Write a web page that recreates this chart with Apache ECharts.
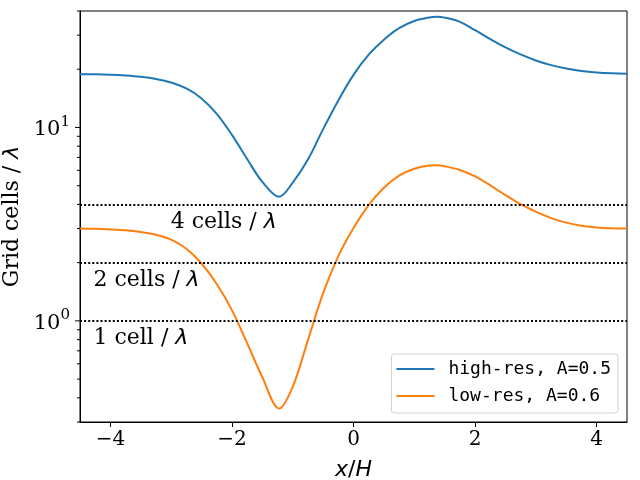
<!DOCTYPE html>
<html>
<head>
    <meta charset="utf-8">
    <title>Grid cells per wavelength</title>
    <script src="https://cdn.jsdelivr.net/npm/echarts@6.0.0/dist/echarts.min.js"></script>
    <style>
        body { margin: 0; background: #fff; }
        #main { width: 640px; height: 480px; }
    </style>
</head>
<body>
    <div id="main"></div>
</body>
<script type="text/javascript">
    var xVals = [-4.5, -4.25, -4.0, -3.75, -3.5, -3.25, -3.0, -2.75, -2.5, -2.25,
        -2.0, -1.75, -1.5, -1.225, -1.0, -0.75, -0.5, -0.25,
        0.0, 0.25, 0.5, 0.75, 1.0, 1.25, 1.375, 1.5, 1.75, 2.0,
        2.25, 2.5, 2.75, 3.0, 3.25, 3.5, 3.75, 4.0, 4.25, 4.5];

    // high-res, A=0.5
    var highRes = [18.86, 18.82, 18.73, 18.55, 18.27, 17.81, 17.08, 15.91, 14.13, 11.75,
        9.15, 6.87, 5.23, 4.38, 5.18, 6.82, 9.8, 13.8,
        18.7, 23.79, 28.44, 32.62, 35.53, 37.06, 37.32, 36.96, 35.16, 31.85,
        28.62, 25.93, 23.85, 22.2, 21.0, 20.16, 19.6, 19.25, 19.05, 18.94];

    // low-res, A=0.6
    var lowRes = [3.0, 2.99, 2.97, 2.94, 2.88, 2.79, 2.63, 2.36, 1.98, 1.55,
        1.136, 0.767, 0.511, 0.352, 0.456, 0.795, 1.39, 2.16,
        3.02, 3.97, 4.88, 5.63, 6.12, 6.36, 6.38, 6.3, 6.03, 5.58,
        5.02, 4.47, 4.01, 3.67, 3.4, 3.22, 3.1, 3.04, 3.01, 3.0];

    var seriesNames = ['high-res, A=0.5', 'low-res, A=0.6'];

    // reference levels (cells per wavelength) and their notes
    var levels = [4, 2, 1];
    var noteX = [-3.0, -4.27, -4.27];
    var noteY = [3.0, 1.5, 0.75];
    var noteText = ['4 cells / ', '2 cells / ', '1 cell / '];

    // log axis ticks
    var minorTicks = [0.3, 0.4, 0.5, 0.6, 0.7, 0.8, 0.9, 2, 3, 4, 5, 6, 7, 8, 9, 20, 30, 40];
    var majorTicks = [1, 10];

    var serif = 'DejaVu Serif';

    function drawGraph() {
        var myChart = echarts.init(document.getElementById('main'), null, { renderer: 'canvas' });

        function pairs(ys) {
            return xVals.map(function (x, i) { return [x, ys[i]]; });
        }

        var tickItem = function (len) {
            return function (params, api) {
                var p = api.coord([api.value(0), api.value(1)]);
                return {
                    type: 'line',
                    shape: { x1: p[0] - len, y1: p[1], x2: p[0], y2: p[1] },
                    style: { stroke: '#000', lineWidth: 1 }
                };
            };
        };

        var option = {
            animation: false,
            color: ['#1f77b4', '#ff7f0e'],
            grid: {
                left: 80,
                right: 13,
                top: 11,
                bottom: 58,
                outerBoundsMode: 'none',
                show: true,
                borderColor: '#000',
                borderWidth: 1
            },
            legend: {
                data: seriesNames,
                orient: 'vertical',
                right: 22,
                bottom: 67,
                icon: 'rect',
                itemWidth: 38,
                itemHeight: 2,
                itemGap: 9,
                padding: [6, 7, 8, 5],
                borderColor: '#d0d0d0',
                borderWidth: 1,
                borderRadius: 3,
                backgroundColor: 'rgba(255,255,255,0.8)',
                textStyle: {
                    fontFamily: 'DejaVu Sans Mono',
                    fontSize: 18,
                    lineHeight: 18,
                    color: '#000',
                    padding: [0, 0, 0, 9]
                }
            },
            xAxis: {
                type: 'value',
                min: -4.5,
                max: 4.5,
                splitNumber: 5,
                name: '{i|x}{n|/}{i|H}',
                nameLocation: 'middle',
                nameGap: 37,
                nameTextStyle: {
                    rich: {
                        i: { fontFamily: 'DejaVu Sans', fontStyle: 'italic', fontSize: 22, color: '#000' },
                        n: { fontFamily: 'DejaVu Sans', fontSize: 22, color: '#000' }
                    }
                },
                splitLine: { show: false },
                axisLine: { onZero: false, lineStyle: { color: '#000', width: 1 } },
                axisTick: { length: 5, lineStyle: { color: '#000' } },
                axisLabel: {
                    fontFamily: serif,
                    fontSize: 20,
                    color: '#000',
                    margin: 8,
                    showMinLabel: false,
                    showMaxLabel: false,
                    formatter: function (v) {
                        if (Math.abs(v - Math.round(v)) > 1e-6) return '';
                        return v < 0 ? '\u2212' + Math.abs(v) : String(v);
                    }
                }
            },
            yAxis: {
                type: 'log',
                logBase: 10,
                min: 0.3,
                max: 40,
                name: '{t|Grid cells / }{l|\u03bb}',
                nameLocation: 'middle',
                nameGap: 57,
                nameTextStyle: {
                    rich: {
                        t: { fontFamily: serif, fontSize: 22, color: '#000' },
                        l: { fontFamily: 'DejaVu Sans', fontStyle: 'italic', fontSize: 22, color: '#000' }
                    }
                },
                splitLine: { show: false },
                axisLine: { onZero: false, lineStyle: { color: '#000', width: 1 } },
                axisTick: { show: false },
                axisLabel: {
                    margin: 10,
                    formatter: function (v) {
                        var e = Math.log10(v);
                        if (Math.abs(e - Math.round(e)) > 1e-6) return '';
                        return '{b|10}{s|' + Math.round(e) + '}';
                    },
                    rich: {
                        b: { fontFamily: serif, fontSize: 21, color: '#000', lineHeight: 26, verticalAlign: 'bottom' },
                        s: { fontFamily: serif, fontSize: 15, color: '#000', lineHeight: 26, verticalAlign: 'top' }
                    }
                }
            },
            series: [{
                name: seriesNames[0],
                type: 'line',
                data: pairs(highRes),
                smooth: 0.33,
                showSymbol: false,
                symbol: 'none',
                lineStyle: { width: 2 },
                z: 3,
                markLine: {
                    silent: true,
                    symbol: 'none',
                    label: { show: false },
                    lineStyle: { color: '#000', width: 2, type: [2, 2.1] },
                    data: levels.map(function (v) { return { yAxis: v }; })
                }
            }, {
                name: seriesNames[1],
                type: 'line',
                data: pairs(lowRes),
                smooth: 0.33,
                showSymbol: false,
                symbol: 'none',
                lineStyle: { width: 2 },
                z: 3
            }, {
                name: 'notes',
                type: 'scatter',
                symbolSize: 1,
                itemStyle: { color: 'rgba(0,0,0,0)', opacity: 1 },
                silent: true,
                data: noteX.map(function (x, i) { return [x, noteY[i], noteText[i]]; }),
                label: {
                    show: true,
                    color: '#000',
                    position: [0, 0],
                    align: 'left',
                    verticalAlign: 'bottom',
                    offset: [0, 5],
                    formatter: function (p) { return '{t|' + p.value[2] + '}{l|\u03bb}'; },
                    rich: {
                        t: { fontFamily: serif, fontSize: 22, color: '#000' },
                        l: { fontFamily: 'DejaVu Sans', fontStyle: 'italic', fontSize: 22, color: '#000' }
                    }
                }
            }, {
                name: 'minor ticks',
                type: 'custom',
                silent: true,
                clip: false,
                data: minorTicks.map(function (v) { return [-4.5, v]; }),
                renderItem: tickItem(3)
            }, {
                name: 'major ticks',
                type: 'custom',
                silent: true,
                clip: false,
                data: majorTicks.map(function (v) { return [-4.5, v]; }),
                renderItem: tickItem(5)
            }]
        };

        myChart.setOption(option);
    }

    drawGraph();
</script>
</html>
